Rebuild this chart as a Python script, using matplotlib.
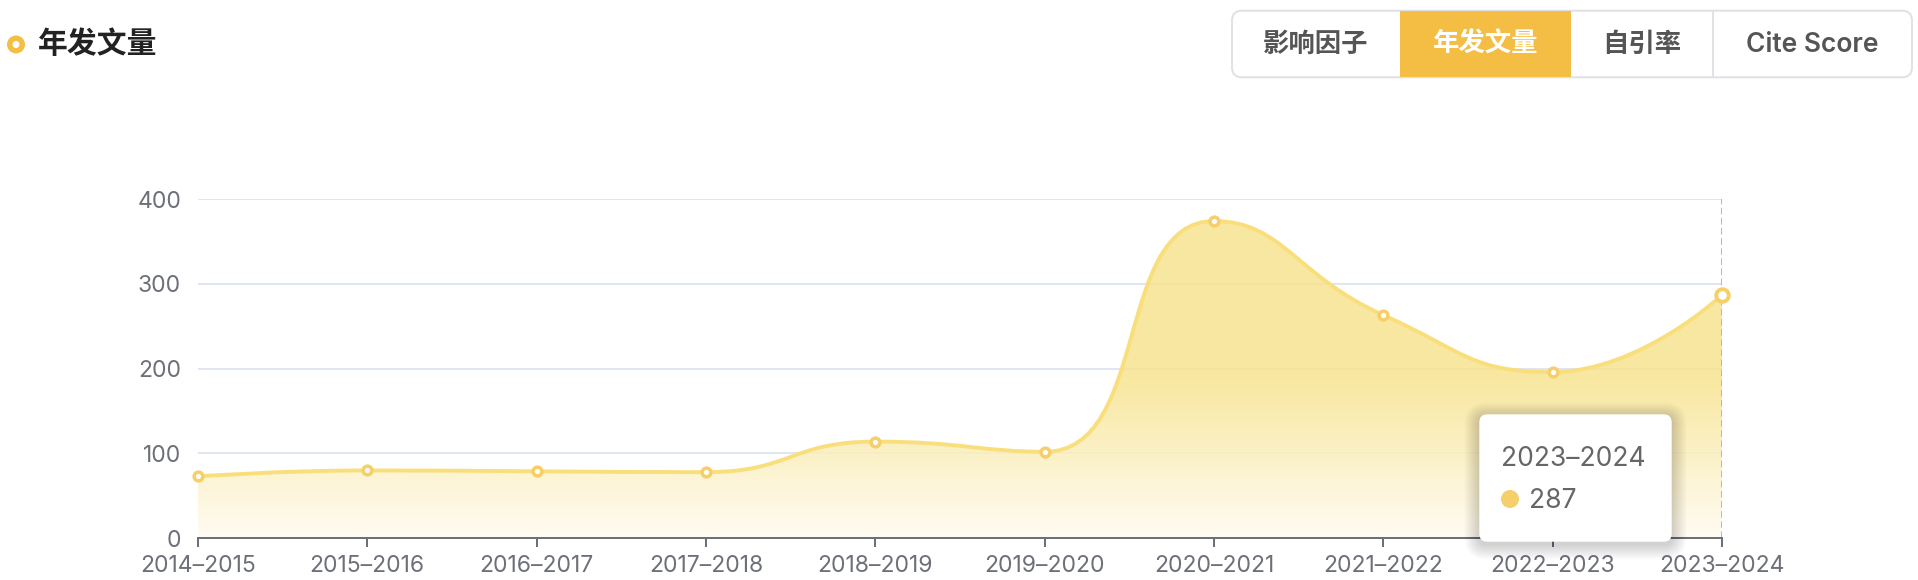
import matplotlib
matplotlib.use("Agg")
import matplotlib.pyplot as plt
import numpy as np
from matplotlib.path import Path
from matplotlib.patches import PathPatch, FancyBboxPatch, Circle, Rectangle
from matplotlib.lines import Line2D
from matplotlib.transforms import IdentityTransform

W, H = 1918, 580

# data
years = ["2014–2015", "2015–2016", "2016–2017", "2017–2018", "2018–2019",
         "2019–2020", "2020–2021", "2021–2022", "2022–2023", "2023–2024"]
papers = [73, 80, 79, 78, 114, 102, 374, 263, 196, 287]
y_ticks = [0, 100, 200, 300, 400]
tabs = ["影响因子", "年发文量", "自引率", "Cite Score"]
active_tab = 1
hover_idx = 9
title = "年发文量"

# colours
LINE = "#F9DF7B"
MARK = "#F6CF68"
GOLD = "#F4BE45"
AXIS = "#6E7079"
GRID = "#E0E6F1"
CJK = ["Noto Sans CJK SC", "DejaVu Sans"]

plt.rcParams["font.family"] = ["Inter", "Noto Sans CJK SC", "DejaVu Sans"]

fig = plt.figure(figsize=(W / 100, H / 100), dpi=100)
ax = fig.add_axes([197.7 / W, 1 - 538.3 / H, (1722.3 - 197.7) / W, (538.3 - 199) / H])
xs = np.arange(len(years))
ax.set_xlim(0, len(years) - 1)
ax.set_ylim(0, 400)

px = IdentityTransform()


def P(x, y):
    # screenshot pixel (top-left origin) -> display coords
    return x, H - y


def clamp(v, a, b):
    return np.minimum(np.maximum(v, np.minimum(a, b)), np.maximum(a, b))


def echarts_smooth(ax, x, y, smooth=0.5):
    # bezier control points like echarts' smooth line (with clamping), in pixel space
    pts = ax.transData.transform(np.column_stack([x, y]))
    n = len(pts)
    c_in = pts.copy()
    c_out = pts.copy()
    for i in range(1, n - 1):
        prev, cur, nxt = pts[i - 1], pts[i], pts[i + 1]
        v = nxt - prev
        d0 = np.hypot(*(cur - prev))
        d1 = np.hypot(*(nxt - cur))
        r = d1 / (d0 + d1)
        out = clamp(cur + v * smooth * r, nxt, cur)
        cin = clamp(cur - (out - cur) * d0 / d1, prev, cur)
        out = cur + (cur - cin) * d1 / d0
        c_out[i] = out
        c_in[i] = cin
    verts = [pts[0]]
    codes = [Path.MOVETO]
    for i in range(n - 1):
        verts += [c_out[i], c_in[i + 1], pts[i + 1]]
        codes += [Path.CURVE4] * 3
    verts = ax.transData.inverted().transform(np.array(verts))
    return verts, codes


verts, codes = echarts_smooth(ax, xs, papers)

# gradient area under the curve
ymax = max(papers)
area_verts = np.vstack([verts, [[xs[-1], 0], [xs[0], 0], verts[0]]])
area_codes = codes + [Path.LINETO, Path.LINETO, Path.CLOSEPOLY]
area = PathPatch(Path(area_verts, area_codes), fc="none", ec="none")
ax.add_patch(area)

alpha = 0.85
top = (np.array([249, 232, 160]) - (1 - alpha) * 255) / alpha
bot = (np.array([255, 252, 243]) - (1 - alpha) * 255) / alpha
t = np.linspace(0, 1, 300)
s = np.clip(t / 0.5, 0, 1)[:, None]
cols = (bot + (top - bot) * s) / 255
grad = np.concatenate([cols, np.full((len(t), 1), alpha)], axis=1)[:, None, :]
im = ax.imshow(np.clip(grad, 0, 1), extent=[xs[0], xs[-1], 0, ymax], origin="lower",
               aspect="auto", zorder=2, interpolation="bilinear")
im.set_clip_path(area)

# hover pointer line
ax.axvline(xs[hover_idx], color="#B3B6C5", lw=1.4, ls=(0, (3.4, 1.8)), zorder=3)

line = PathPatch(Path(verts, codes), fill=False, ec=LINE, lw=2.8, zorder=4,
                 clip_on=False, capstyle="round", joinstyle="round")
ax.add_patch(line)

mask = np.arange(len(xs)) != hover_idx
ax.plot(xs[mask], np.array(papers)[mask], "o", ms=6.3, mfc="white", mec=MARK,
        mew=2.5, zorder=5, clip_on=False)
ax.plot(xs[hover_idx], papers[hover_idx], "o", ms=9, mfc="white", mec=MARK,
        mew=2.8, zorder=6, clip_on=False)

# axes styling
ax.set_xticks(xs, years)
ax.set_yticks(y_ticks)
ax.grid(axis="y", color=GRID, lw=1.4)
ax.set_axisbelow(True)
for side in ["top", "right", "left"]:
    ax.spines[side].set_visible(False)
ax.spines["bottom"].set_color(AXIS)
ax.spines["bottom"].set_linewidth(1.44)
ax.spines["bottom"].set_zorder(5)
ax.tick_params(axis="x", length=6.5, width=1.44, color=AXIS, labelcolor=AXIS,
               labelsize=16.5, pad=5.5)
ax.tick_params(axis="y", length=0, labelcolor=AXIS, labelsize=16.5, pad=12)

# title with ring icon
fig.add_artist(Circle(P(16, 44.5), 6.25, fc="white", ec=GOLD, lw=3.9, transform=px))
fig.text(*P(38, 44.5), title, transform=px, family=CJK, fontsize=21.5,
         weight="bold", color="#222222", ha="left", va="center")

# tab buttons
edges = [1232, 1400, 1571, 1712.7, 1912]
btn_top, btn_bot = 10.7, 77.3
fig.add_artist(FancyBboxPatch(P(edges[0], btn_bot), edges[-1] - edges[0], btn_bot - btn_top,
                              boxstyle="round,pad=0,rounding_size=10", fc="white",
                              ec="#E1E1E6", lw=1.44, transform=px))
for i, label in enumerate(tabs):
    x0, x1 = edges[i], edges[i + 1]
    if i == active_tab:
        fig.add_artist(Rectangle(P(x0, btn_bot), x1 - x0, btn_bot - btn_top,
                                 fc=GOLD, ec="none", transform=px, zorder=1.5))
        color = "white"
    else:
        color = "#555555"
    if 0 < i and i != active_tab and i - 1 != active_tab:
        fig.add_artist(Line2D([x0, x0], [H - btn_top, H - btn_bot], color="#E1E1E6",
                              lw=1.44, transform=px))
    fam = CJK if not label.isascii() else ["Inter", "DejaVu Sans"]
    fig.text(*P((x0 + x1) / 2, 44.5), label, transform=px, family=fam, fontsize=19,
             weight="semibold", color=color, ha="center", va="center", zorder=4)

# tooltip
tx0, ty0, tx1, ty1 = 1479.3, 414.3, 1671.7, 541.7
for k in range(1, 16):
    fig.add_artist(FancyBboxPatch(P(tx0, ty1 + 3), tx1 - tx0, ty1 - ty0,
                                  boxstyle=f"round,pad={k},rounding_size={8 + k}",
                                  fc="black", ec="none", alpha=0.011,
                                  transform=px, zorder=6))
fig.add_artist(FancyBboxPatch(P(tx0, ty1), tx1 - tx0, ty1 - ty0,
                              boxstyle="round,pad=0,rounding_size=8", fc="white",
                              ec="none", transform=px, zorder=7))
fig.text(*P(1501, 466), years[hover_idx], transform=px, fontsize=19,
         color="#666666", ha="left", va="baseline", zorder=8)
fig.add_artist(Circle(P(1510, 499), 9, fc="#F5CF6A", ec="none", transform=px, zorder=8))
fig.text(*P(1529, 508.3), str(papers[hover_idx]), transform=px, fontsize=19,
         color="#666666", ha="left", va="baseline", zorder=8)

fig.savefig("out.png", dpi=100)
